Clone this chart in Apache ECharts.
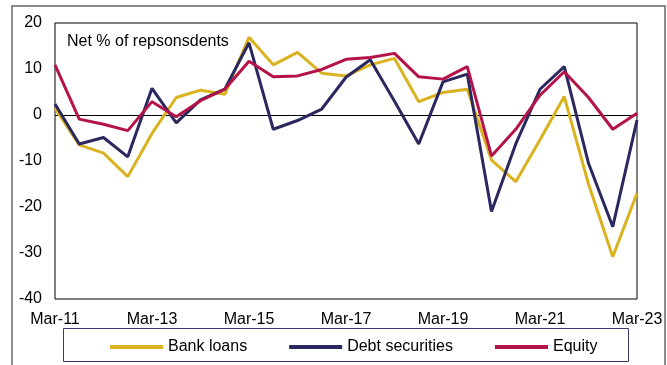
<!DOCTYPE html>
<html>
<head>
<meta charset="utf-8">
<script src="https://cdn.jsdelivr.net/npm/echarts@6/dist/echarts.min.js"></script>
<style>
  html, body { margin: 0; padding: 0; background: #fff; }
  #chart { width: 667px; height: 365px; }
</style>
</head>
<body>
<div id="chart"></div>
<script>
// half-yearly survey dates, Mar-11 .. Mar-23
var periods = [
  "Mar-11", "Sep-11", "Mar-12", "Sep-12", "Mar-13", "Sep-13", "Mar-14", "Sep-14",
  "Mar-15", "Sep-15", "Mar-16", "Sep-16", "Mar-17", "Sep-17", "Mar-18", "Sep-18",
  "Mar-19", "Sep-19", "Mar-20", "Sep-20", "Mar-21", "Sep-21", "Mar-22", "Sep-22", "Mar-23"
];
var bankLoans = [1.5, -6.5, -8.3, -13.4, -4, 3.8, 5.4, 4.5, 16.9, 10.9, 13.6, 9.1, 8.5,
  10.9, 12.3, 2.9, 4.9, 5.6, -9.8, -14.5, -5.4, 4.0, -15, -30.8, -17];
var debtSecurities = [2.4, -6.3, -4.9, -9.1, 5.8, -1.7, 3.3, 5.6, 15.7, -3.1, -1.2, 1.3, 8.2,
  12, 3, -6.3, 7.2, 8.9, -21, -6.3, 5.6, 10.5, -10.5, -24.3, -1.1];
var equity = [10.9, -0.9, -2, -3.4, 2.9, -0.4, 3.1, 5.6, 11.7, 8.3, 8.5, 9.9, 12.1,
  12.5, 13.4, 8.3, 7.8, 10.5, -8.9, -3.1, 4.3, 9.4, 3.8, -3.1, 0.4];
var yTicks = { min: -40, max: 20, step: 10 };

var font = "'Liberation Sans', Arial, sans-serif";
var chart = echarts.init(document.getElementById("chart"));

function lineSeries(name, data, color) {
  return {
    name: name,
    type: "line",
    data: data,
    symbol: "none",
    lineStyle: { color: color, width: 3 },
    itemStyle: { color: color },
    z: 3
  };
}

var series = [
  lineSeries("Bank loans", bankLoans, "#dab21f"),
  lineSeries("Debt securities", debtSecurities, "#2b2860"),
  lineSeries("Equity", equity, "#b5124a")
];
// zero line
series[0].markLine = {
  silent: true,
  symbol: "none",
  label: { show: false },
  lineStyle: { color: "#000", width: 1, type: "solid" },
  data: [{ yAxis: 0 }],
  z: 1
};

chart.setOption({
  backgroundColor: "#fff",
  animation: false,
  textStyle: { fontFamily: font },
  grid: {
    left: 55,
    right: 30,
    top: 23,
    bottom: 66,
    show: true,
    borderColor: "#000",
    borderWidth: 1
  },
  graphic: [
    {
      type: "rect",
      shape: { x: 12, y: 6, width: 653, height: 370 },
      style: { fill: null, stroke: "#666", lineWidth: 1.5 },
      silent: true,
      z: -1
    },
    {
      type: "rect",
      shape: { x: 63.5, y: 328.5, width: 565, height: 33 },
      style: { fill: null, stroke: "#3b3873", lineWidth: 1 },
      silent: true
    },
    {
      type: "text",
      left: 67,
      top: 34,
      style: { text: "Net % of repsonsdents", fontSize: 16, fontFamily: font, fill: "#000" }
    }
  ],
  legend: {
    top: 334,
    left: 105,
    itemWidth: 53,
    itemHeight: 4,
    itemGap: 42,
    icon: "rect",
    textStyle: { fontSize: 16, color: "#000", fontFamily: font },
    data: ["Bank loans", "Debt securities", "Equity"]
  },
  xAxis: {
    type: "category",
    boundaryGap: false,
    data: periods,
    axisLine: { show: false },
    axisTick: { show: false },
    axisLabel: {
      interval: 3,
      color: "#000",
      fontSize: 16,
      margin: 13,
      fontFamily: font
    },
    splitLine: { show: false }
  },
  yAxis: {
    type: "value",
    min: yTicks.min,
    max: yTicks.max,
    interval: yTicks.step,
    axisLine: { show: false },
    axisTick: { show: false },
    splitLine: { show: false },
    axisLabel: { color: "#000", fontSize: 16, margin: 13, fontFamily: font }
  },
  series: series
});
</script>
</body>
</html>
